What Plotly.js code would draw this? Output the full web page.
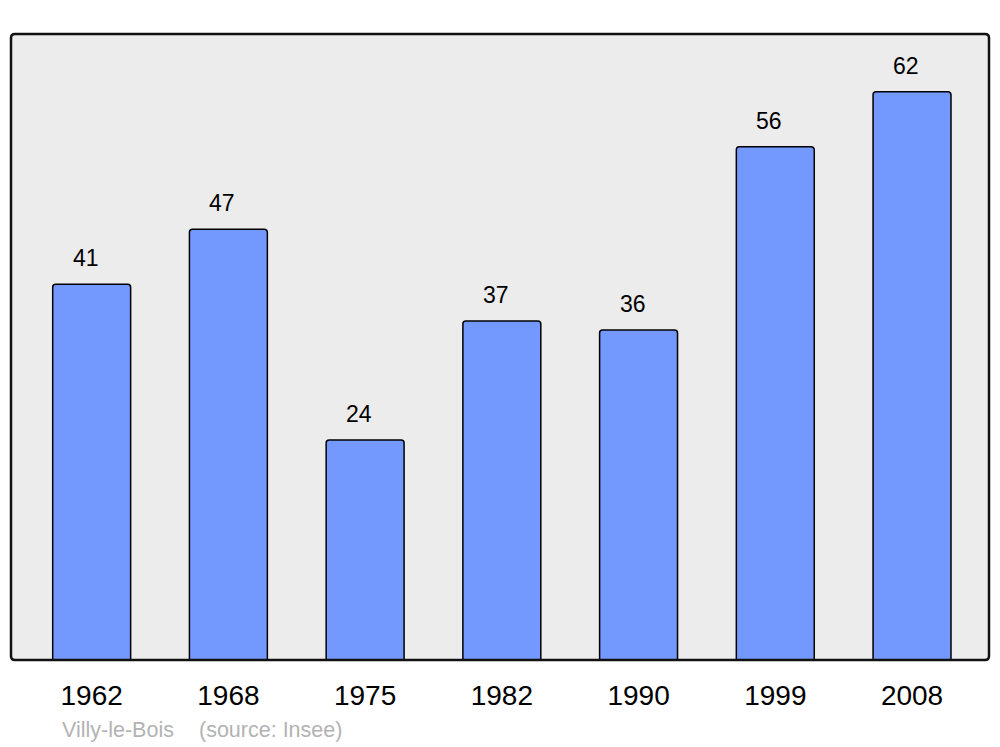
<!DOCTYPE html>
<html>
<head>
<meta charset="utf-8">
<script src="https://cdn.plot.ly/plotly-3.0.1.min.js"></script>
<style>html,body{margin:0;padding:0;background:#fff;}#chart{width:1000px;height:747px;}</style>
</head>
<body>
<div id="chart"></div>
<script>
const years = ["1962", "1968", "1975", "1982", "1990", "1999", "2008"];
const population = [41, 47, 24, 37, 36, 56, 62];
const placeName = "Villy-le-Bois";
const sourceText = "(source: Insee)";

const trace = {
  type: "bar",
  x: years,
  y: population,
  marker: {color: "#7399ff", line: {color: "#000", width: 1.5}, cornerradius: 3},
  hoverinfo: "none"
};

const labels = years.map((yr, i) => ({
  x: i, y: population[i], xref: "x", yref: "y",
  text: String(population[i]), showarrow: false,
  yanchor: "bottom", yshift: 11, xshift: -6,
  font: {family: "Liberation Sans, Arial, sans-serif", size: 23, color: "#000"}
}));

const rx = 4 / 978, ry = 4 / 626;
const roundRect = `M ${rx},0 L ${1-rx},0 Q 1,0 1,${ry} L 1,${1-ry} Q 1,1 ${1-rx},1 L ${rx},1 Q 0,1 0,${1-ry} L 0,${ry} Q 0,0 ${rx},0 Z`;

const layout = {
  width: 1000, height: 747,
  margin: {l: 11, r: 11, t: 34, b: 87},
  paper_bgcolor: "#fff",
  plot_bgcolor: "rgba(0,0,0,0)",
  bargap: 0.43,
  showlegend: false,
  xaxis: {
    type: "category", range: [-0.59, 6.563],
    showgrid: false, zeroline: false, showline: false,
    ticks: "outside", ticklen: 10, tickcolor: "rgba(0,0,0,0)",
    tickfont: {family: "Liberation Sans, Arial, sans-serif", size: 28, color: "#000"},
    fixedrange: true
  },
  yaxis: {
    range: [0, 68.3], showgrid: false, zeroline: false, showline: false,
    showticklabels: false, ticks: "", fixedrange: true
  },
  shapes: [
    {type: "path", xref: "paper", yref: "paper", path: roundRect, fillcolor: "#ececec", line: {width: 0}, layer: "below"},
    {type: "path", xref: "paper", yref: "paper", path: roundRect, fillcolor: "rgba(0,0,0,0)", line: {color: "#111", width: 2.5}, layer: "above"}
  ],
  annotations: labels.concat([
    {x: 60, y: 730, text: placeName},
    {x: 197, y: 730, text: sourceText}
  ].map(a => ({
    text: a.text, showarrow: false, xref: "paper", yref: "paper",
    x: (a.x - 11) / 978, y: (660 - a.y) / 626,
    xanchor: "left", yanchor: "middle",
    font: {family: "Liberation Sans, Arial, sans-serif", size: 21.5, color: "#b3b3b3"}
  })))
};

Plotly.newPlot("chart", [trace], layout, {displayModeBar: false, staticPlot: true});
</script>
</body>
</html>
